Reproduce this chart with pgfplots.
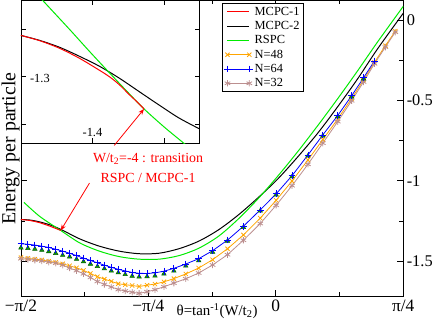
\documentclass[border=0pt]{standalone}
\usepackage{fontspec}
\setmainfont{Liberation Serif}
\usepackage{pgfplots}
\pgfplotsset{compat=1.18}
\usetikzlibrary{arrows.meta}
\definecolor{mgreen}{RGB}{0,235,0}
\definecolor{morange}{RGB}{255,165,0}
\definecolor{mrosy}{RGB}{188,143,143}
\definecolor{mdgreen}{RGB}{0,100,0}
\definecolor{mtri}{RGB}{20,140,20}
\begin{document}
\begin{tikzpicture}
\begin{axis}[name=main, scale only axis, width=385pt, height=297.8pt,
  xmin=-1.5708, xmax=0.7854, ymin=-1.718, ymax=0.124,
  axis line style={line width=0.8pt},
  every tick/.style={black,line width=0.8pt},
  tick align=inside, major tick length=6pt, minor tick length=4pt,
  xtick={-1.5708,-0.7854,0,0.7854}, xticklabels={−π/2,−π/4,0,π/4},
  minor xtick={-1.1781,-0.3927,0.3927},
  ytick={-1.5,-1,-0.5,0}, yticklabels={-1.5,-1,-0.5,0},
  minor ytick={-1.25,-0.75,-0.25},
  yticklabel pos=right,
  xticklabel style={font=\fontsize{17.5}{18}\selectfont},
  yticklabel style={font=\fontsize{16.5}{17}\selectfont},
  xlabel={θ=tan\textsuperscript{-1}(W/t\textsubscript{2})},
  xlabel style={at={(rel axis cs:0.513,0)}, anchor=north, inner sep=0pt, yshift=-7.5pt, font=\fontsize{15}{15}\selectfont},
  legend style={at={(rel axis cs:0.527,0.99)}, anchor=north west, draw=black, fill=white,
    font=\fontsize{12.5}{13}\selectfont, cells={anchor=west}, inner sep=1.5pt, row sep=0.6pt},
  legend image code/.code={\draw[#1] plot coordinates {(0pt,0pt) (22pt,0pt)};},
]
\addlegendimage{red, line width=1pt}\addlegendentry{MCPC-1}
\addlegendimage{black, line width=1pt}\addlegendentry{MCPC-2}
\addlegendimage{mgreen, line width=1pt}\addlegendentry{RSPC}
\addlegendimage{morange, line width=0.8pt, mark=x, mark size=3pt}\addlegendentry{N=48}
\addlegendimage{blue, line width=0.8pt, mark=+, mark size=3.4pt}\addlegendentry{N=64}
\addlegendimage{mrosy, line width=0.8pt, mark=asterisk, mark size=3.2pt}\addlegendentry{N=32}

% MCPC-2
\addplot[black, line width=1pt, smooth, forget plot] coordinates {
(-1.5708,-1.241) (-1.5157,-1.244) (-1.4545,-1.256) (-1.3933,-1.274) (-1.3258,-1.302)
(-1.2097,-1.361) (-1.0873,-1.407) (-0.9649,-1.438) (-0.8425,-1.454) (-0.7201,-1.451)
(-0.5977,-1.423) (-0.4753,-1.376) (-0.3529,-1.305) (-0.2305,-1.212) (-0.1081,-1.104)
(0.0143,-0.986) (0.1367,-0.849) (0.2591,-0.702) (0.3815,-0.538) (0.5039,-0.365)
(0.6263,-0.179) (0.7854,0.044)};
% RSPC
\addplot[mgreen, line width=1pt, smooth, forget plot] coordinates {
(-1.5524,-1.134) (-1.4545,-1.222) (-1.3258,-1.309) (-1.2097,-1.386) (-1.0873,-1.438)
(-0.9649,-1.472) (-0.8425,-1.488) (-0.7201,-1.488) (-0.5977,-1.466) (-0.4753,-1.420)
(-0.3529,-1.345) (-0.2305,-1.237) (-0.1081,-1.110) (0.0143,-0.968) (0.1367,-0.816)
(0.2591,-0.655) (0.3815,-0.488) (0.5039,-0.315) (0.6263,-0.136) (0.7854,0.087)};
% MCPC-1
\addplot[red, line width=1pt, smooth, forget plot] coordinates {
(-1.5708,-1.241) (-1.5157,-1.247) (-1.4545,-1.261) (-1.3933,-1.282) (-1.3258,-1.309)};
% N=48
\addplot[morange, line width=0.8pt, mark=x, mark size=3pt, forget plot] coordinates {
(-1.5708,-1.478) (-1.5280,-1.483) (-1.4851,-1.488) (-1.4423,-1.493) (-1.3994,-1.501)
(-1.3566,-1.508) (-1.3138,-1.517) (-1.2709,-1.529) (-1.2281,-1.542) (-1.1852,-1.558)
(-1.1424,-1.577) (-1.0996,-1.597) (-1.0567,-1.612) (-1.0139,-1.626) (-0.9710,-1.641)
(-0.9282,-1.647) (-0.8854,-1.652) (-0.8425,-1.658) (-0.7936,-1.650) (-0.7446,-1.643)
(-0.6895,-1.629) (-0.6283,-1.609) (-0.5549,-1.580) (-0.4753,-1.543) (-0.3896,-1.491)
(-0.2978,-1.423) (-0.1999,-1.337) (-0.0959,-1.232) (0.0020,-1.121) (0.1000,-1.001)
(0.1979,-0.870) (0.2897,-0.743) (0.3815,-0.615) (0.4672,-0.487) (0.5406,-0.372)
(0.6079,-0.262) (0.6752,-0.158) (0.7364,-0.068)};
% N=32
\addplot[mrosy, line width=0.8pt, mark=asterisk, mark size=3.2pt, forget plot] coordinates {
(-1.5708,-1.485) (-1.5280,-1.489) (-1.4851,-1.494) (-1.4423,-1.499) (-1.3994,-1.506)
(-1.3566,-1.513) (-1.3138,-1.525) (-1.2709,-1.543) (-1.2281,-1.559) (-1.1852,-1.579)
(-1.1424,-1.602) (-1.0996,-1.627) (-1.0567,-1.645) (-1.0139,-1.661) (-0.9710,-1.677)
(-0.9282,-1.686) (-0.8854,-1.694) (-0.8425,-1.701) (-0.7936,-1.691) (-0.7446,-1.678)
(-0.6895,-1.660) (-0.6283,-1.637) (-0.5549,-1.610) (-0.4753,-1.574) (-0.3896,-1.524)
(-0.2978,-1.460) (-0.1999,-1.370) (-0.0959,-1.266) (0.0020,-1.152) (0.1000,-1.030)
(0.1979,-0.897) (0.2897,-0.765) (0.3815,-0.631) (0.4672,-0.501) (0.5406,-0.384)
(0.6079,-0.271) (0.6752,-0.167) (0.7364,-0.074)};
% unlabelled triangles
\addplot[only marks, mark=triangle*, mark size=2.6pt, mark options={draw=mdgreen, fill=mtri, line width=0.5pt}, forget plot] coordinates {
(-1.5708,-1.417) (-1.5280,-1.420) (-1.4851,-1.425) (-1.4423,-1.432) (-1.3994,-1.440)
(-1.3566,-1.451) (-1.3138,-1.463) (-1.2709,-1.473) (-1.2281,-1.488) (-1.1852,-1.503)
(-1.1424,-1.518) (-1.0996,-1.533) (-1.0567,-1.547) (-1.0139,-1.561) (-0.9710,-1.572)
(-0.9282,-1.583) (-0.8854,-1.593) (-0.8425,-1.598) (-0.7936,-1.596) (-0.7446,-1.592)
(-0.6895,-1.579) (-0.6283,-1.561) (-0.5549,-1.530) (-0.4753,-1.497) (-0.3896,-1.444)
(-0.2978,-1.375) (-0.1999,-1.289) (-0.0959,-1.187) (0.0020,-1.087) (0.1000,-0.974)
(0.1979,-0.845) (0.2897,-0.720) (0.3815,-0.599) (0.4672,-0.476) (0.5406,-0.364)};
% N=64
\addplot[blue, line width=0.8pt, mark=+, mark size=3.4pt, forget plot] coordinates {
(-1.5708,-1.392) (-1.5280,-1.395) (-1.4851,-1.400) (-1.4423,-1.407) (-1.3994,-1.415)
(-1.3566,-1.426) (-1.3138,-1.438) (-1.2709,-1.451) (-1.2281,-1.466) (-1.1852,-1.481)
(-1.1424,-1.496) (-1.0996,-1.511) (-1.0567,-1.525) (-1.0139,-1.539) (-0.9710,-1.551)
(-0.9282,-1.561) (-0.8854,-1.571) (-0.8425,-1.576) (-0.7936,-1.577) (-0.7446,-1.573)
(-0.6895,-1.563) (-0.6283,-1.545) (-0.5549,-1.518) (-0.4753,-1.485) (-0.3896,-1.435)
(-0.2978,-1.369) (-0.1999,-1.283) (-0.0959,-1.181) (0.0020,-1.081) (0.1000,-0.968)
(0.1979,-0.839) (0.2897,-0.714) (0.3815,-0.593) (0.4672,-0.470) (0.5406,-0.358)
(0.6079,-0.253)};

\draw[red, line width=0.8pt, -{Stealth[length=6pt,width=4.5pt]}] (axis cs:-1.1485,-1.0142) -- (axis cs:-1.3258,-1.3094);
\node[red, align=center, font=\fontsize{14}{20}\selectfont] at (axis cs:-0.7874,-0.9214) {W/t\textsubscript{2}=-4 : transition\\RSPC / MCPC-1};
\coordinate (a2) at (axis cs:-0.9955,-0.7791);
\end{axis}

\begin{axis}[at={(main.north west)}, anchor=north west,
  scale only axis, width=180pt, height=144pt,
  xmin=-1.5, xmax=-1.25, ymin=-1.44, ymax=-1.14,
  xtick={-1.4,-1.3}, ytick={-1.4,-1.3,-1.2},
  xticklabels={}, yticklabels={},
  tick align=inside, major tick length=5pt,
  axis background/.style={fill=white},
  axis line style={line width=0.8pt},
  every tick/.style={black,line width=0.8pt},
]
\addplot[black, line width=1pt, smooth] coordinates {
(-1.5,-1.2135) (-1.4736,-1.2240) (-1.4458,-1.2385) (-1.4181,-1.2573) (-1.3903,-1.2781)
(-1.3625,-1.3031) (-1.3347,-1.3313) (-1.3069,-1.3594) (-1.2792,-1.3865) (-1.25,-1.4098)};
\addplot[mgreen, line width=1pt, smooth] coordinates {
(-1.4764,-1.1292) (-1.4690,-1.1410) (-1.4319,-1.2010) (-1.4042,-1.2469) (-1.3764,-1.2917)
(-1.3514,-1.3313) (-1.3278,-1.3677) (-1.3,-1.4052) (-1.2722,-1.4396) (-1.25,-1.4667)};
\addplot[red, line width=1pt, smooth] coordinates {
(-1.5,-1.2135) (-1.4736,-1.2246) (-1.4458,-1.2406) (-1.4181,-1.2615) (-1.3903,-1.2865)
(-1.3764,-1.3000) (-1.3625,-1.3167) (-1.3486,-1.3375) (-1.3375,-1.3531) (-1.3278,-1.3677)};
\node[anchor=west, inner sep=0pt, xshift=9pt, yshift=-1.5pt, font=\fontsize{12.5}{13}\selectfont] at (axis cs:-1.5,-1.3) {-1.3};
\node[anchor=south, inner sep=0pt, yshift=7pt, font=\fontsize{12.5}{13}\selectfont] at (axis cs:-1.4,-1.44) {-1.4};
\coordinate (t2) at (axis cs:-1.3278,-1.3677);
\end{axis}
\draw[red, line width=0.8pt, -{Stealth[length=6pt,width=4.5pt]}] (a2) -- (t2);
\node[xshift=-10.5pt, rotate=90, inner sep=1.5pt, font=\fontsize{20}{20}\selectfont] at (main.west) {Energy per particle};
\end{tikzpicture}
\end{document}
